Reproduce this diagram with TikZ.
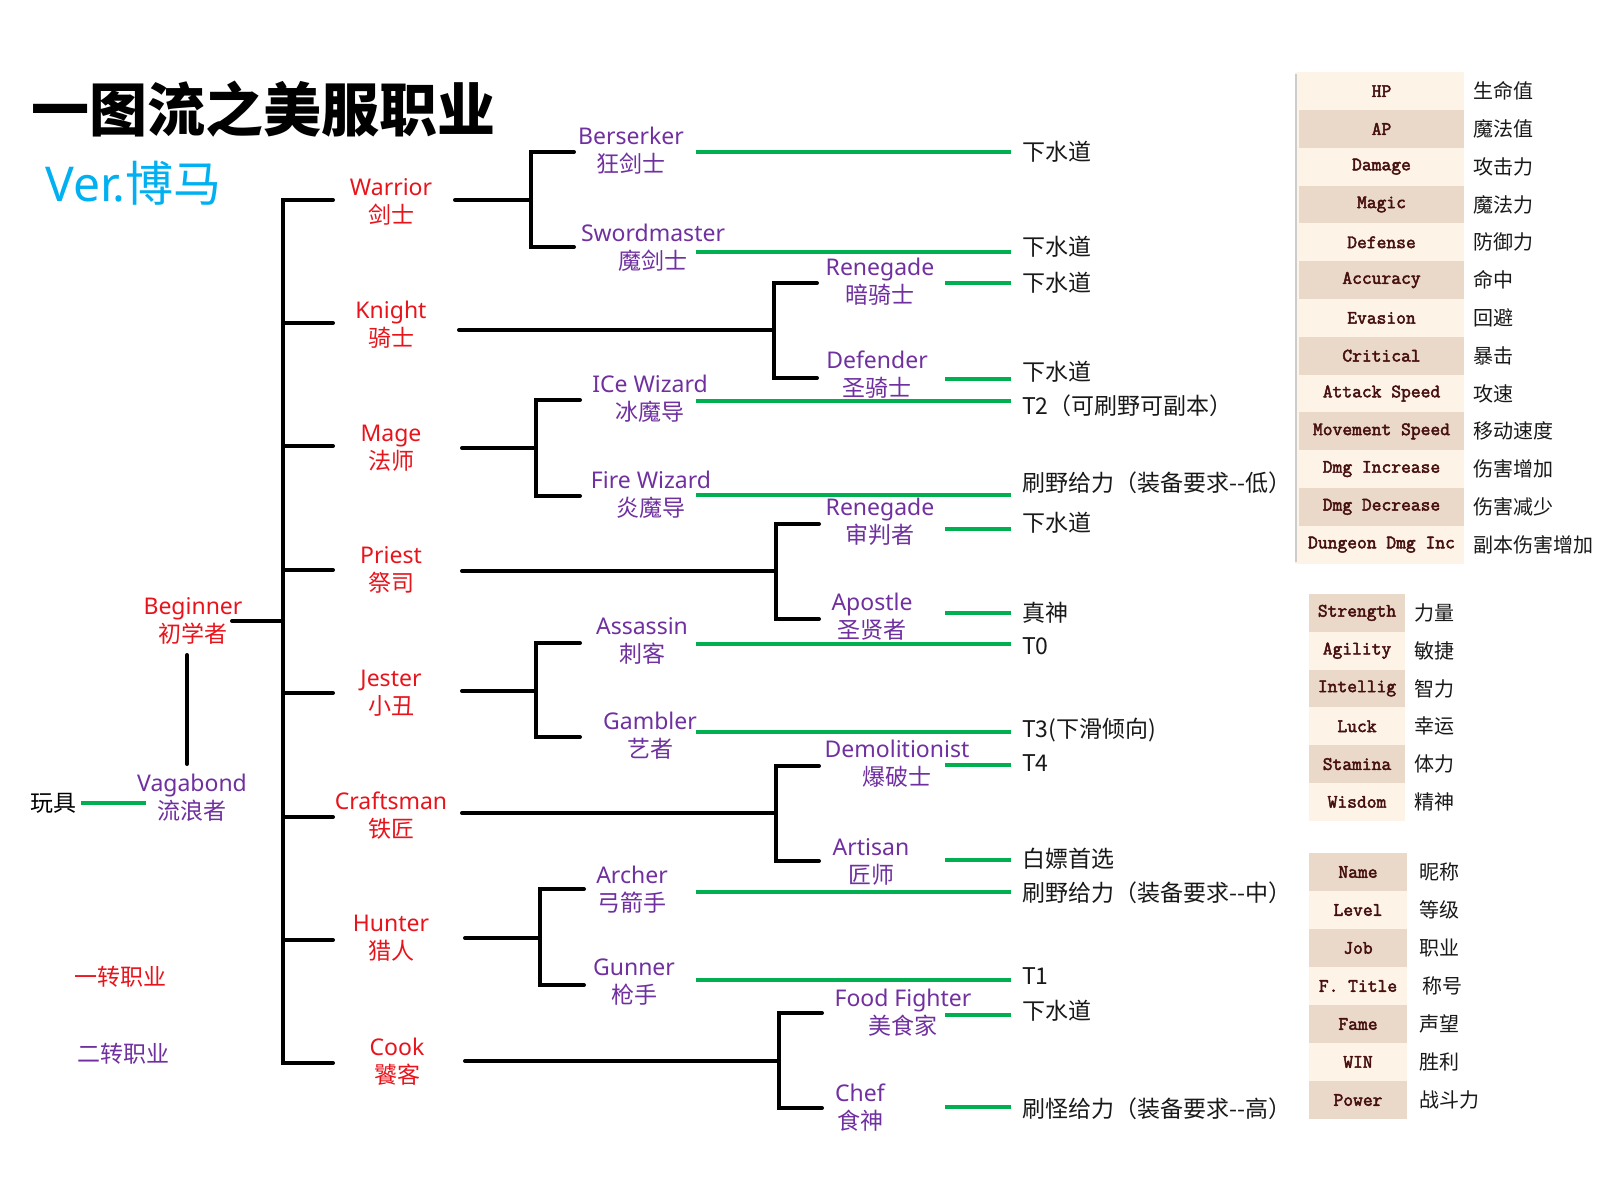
\documentclass[tikz,border=0pt]{standalone}
\usepackage{fontspec}
\setmainfont{Noto Sans}
\newfontfamily\cjk{Noto Sans CJK SC}
\newfontfamily\tblfont{Latin Modern Mono}[FakeBold=2.5]
\definecolor{jred}{RGB}{232,20,28}
\definecolor{jpur}{RGB}{112,48,160}
\definecolor{jgrn}{RGB}{0,176,80}
\definecolor{jcyan}{RGB}{0,176,240}
\definecolor{rowlight}{RGB}{253,243,230}
\definecolor{rowdark}{RGB}{234,217,200}
\definecolor{tbltext}{RGB}{70,16,16}
\begin{document}
\begin{tikzpicture}[x=1pt,y=-1pt,
  tree/.style={line width=4pt, black, line cap=round, line join=miter},
  grn/.style={line width=4.5pt, jgrn},
  lbl/.style={align=center, inner sep=0pt, font=\fontsize{23}{28}\selectfont},
  jobA/.style={lbl, text=jred},
  jobB/.style={lbl, text=jpur},
  res/.style={anchor=west, inner xsep=11pt, inner ysep=0pt, font=\cjk\fontsize{23}{28}\selectfont, text=black!90},
  cell/.style={font=\tblfont\fontsize{19}{22}\selectfont, text=tbltext, inner sep=0pt},
  meaning/.style={anchor=west, inner sep=0pt, font=\cjk\fontsize{20}{24}\selectfont, text=black!90},
]
\useasboundingbox[fill=white] (0,0) rectangle (1600,1200);

% ---------- title ----------
\node[anchor=west, inner sep=0pt, font=\cjk\bfseries\fontsize{58}{64}\selectfont] (title) at (31,109) {一图流之美服职业};
\node[anchor=west, inner sep=0pt, text=jcyan, font=\fontsize{48}{52}\selectfont] (ver) at (45,183) {Ver.{\cjk 博马}};

% ---------- legend ----------
\node[inner sep=0pt, text=jred, font=\cjk\fontsize{23}{28}\selectfont] (leg1) at (120,977) {一转职业};
\node[inner sep=0pt, text=jpur, font=\cjk\fontsize{23}{28}\selectfont] (leg2) at (123,1054) {二转职业};

% ---------- coordinates of the tree ----------
\coordinate (tk1) at (283,200);
\coordinate (tk2) at (283,323);
\coordinate (tk3) at (283,446);
\coordinate (tk4) at (283,570);
\coordinate (tk5) at (283,693);
\coordinate (tk6) at (283,817);
\coordinate (tk7) at (283,940);
\coordinate (tk8) at (283,1063);
\coordinate (tkB) at (283,621);
\coordinate (l1) at (333,200);
\coordinate (l2) at (333,323);
\coordinate (l3) at (333,446);
\coordinate (l4) at (333,570);
\coordinate (l5) at (333,693);
\coordinate (l6) at (333,817);
\coordinate (l7) at (333,940);
\coordinate (l8) at (333,1063);
\coordinate (begR) at (232,621);
\coordinate (begD) at (187,655);
\coordinate (vagU) at (187,764);
\coordinate (toyR) at (81,803);
\coordinate (vagL) at (146,803);

% first-job right ends and branch points
\coordinate (r1) at (455,200);  \coordinate (v1) at (531,200);
\coordinate (r2) at (459,330);  \coordinate (v2) at (774,330);
\coordinate (r3) at (462,448);  \coordinate (v3) at (536,448);
\coordinate (r4) at (462,571);  \coordinate (v4) at (776,571);
\coordinate (r5) at (462,691);  \coordinate (v5) at (536,691);
\coordinate (r6) at (462,813);  \coordinate (v6) at (776,813);
\coordinate (r7) at (465,938);  \coordinate (v7) at (540,938);
\coordinate (r8) at (465,1061); \coordinate (v8) at (779,1061);

% ---------- black tree ----------
\draw[tree] (l1) -- (tk1) -- (tk8) -- (l8);
\foreach \k in {2,...,7} { \draw[tree] (tk\k) -- (l\k); }
\draw[tree] (begR) -- (tkB);
\draw[tree] (begD) -- (vagU);
\draw[grn] (toyR) -- (vagL);

\foreach \k in {1,...,8} { \draw[tree] (r\k) -- (v\k); }
% brackets to the second jobs
\draw[tree] (574,152) -- (531,152) -- (531,247) -- (574,247);
\draw[tree] (817,283) -- (774,283) -- (774,378) -- (817,378);
\draw[tree] (580,400) -- (536,400) -- (536,496) -- (580,496);
\draw[tree] (819,524) -- (776,524) -- (776,619) -- (819,619);
\draw[tree] (580,643) -- (536,643) -- (536,737) -- (580,737);
\draw[tree] (819,766) -- (776,766) -- (776,861) -- (819,861);
\draw[tree] (584,889) -- (540,889) -- (540,985) -- (584,985);
\draw[tree] (822,1013) -- (779,1013) -- (779,1108) -- (822,1108);

% ---------- result texts ----------
\node[res] (o1)  at (1011,152) {下水道};
\node[res] (o2)  at (1011,247) {下水道};
\node[res] (o3)  at (1011,283) {下水道};
\node[res] (o4)  at (1011,372) {下水道};
\node[res] (o5)  at (1011,406) {T2（可刷野可副本）};
\node[res] (o6)  at (1011,483) {刷野给力（装备要求--低）};
\node[res] (o7)  at (1011,523) {下水道};
\node[res] (o8)  at (1011,613) {真神};
\node[res] (o9)  at (1011,646) {T0};
\node[res] (o10) at (1011,730) {T3(下滑倾向)};
\node[res] (o11) at (1011,763) {T4};
\node[res] (o12) at (1011,859) {白嫖首选};
\node[res] (o13) at (1011,893) {刷野给力（装备要求--中）};
\node[res] (o14) at (1011,976) {T1};
\node[res] (o15) at (1011,1011) {下水道};
\node[res] (o16) at (1011,1109) {刷怪给力（装备要求--高）};

% ---------- green connectors ----------
\coordinate (g1) at (696,152);
\coordinate (g2) at (696,252);
\coordinate (g3) at (945,283);
\coordinate (g4) at (945,379);
\coordinate (g5) at (696,401);
\coordinate (g6) at (696,495);
\coordinate (g7) at (945,529);
\coordinate (g8) at (945,613);
\coordinate (g9) at (696,644);
\coordinate (g10) at (696,732);
\coordinate (g11) at (945,765);
\coordinate (g12) at (945,860);
\coordinate (g13) at (696,892);
\coordinate (g14) at (696,980);
\coordinate (g15) at (945,1015);
\coordinate (g16) at (945,1107);
\foreach \k in {1,...,16} { \draw[grn] (g\k) -- (g\k -| o\k.west); }

% ---------- labels ----------
\node[jobA] (beginner) at (193,621) {Beginner\\{\cjk 初学者}};
\node[jobB] (vagabond) at (192,798) {Vagabond\\{\cjk 流浪者}};
\node[inner sep=0pt, font=\cjk\fontsize{23}{28}\selectfont] (toy) at (53,803) {玩具};

\node[jobA] (warrior)   at (391,202)  {Warrior\\{\cjk 剑士}};
\node[jobA] (knight)    at (391,325)  {Knight\\{\cjk 骑士}};
\node[jobA] (mage)      at (391,448)  {Mage\\{\cjk 法师}};
\node[jobA] (priest)    at (391,570)  {Priest\\{\cjk 祭司}};
\node[jobA] (jester)    at (391,693)  {Jester\\{\cjk 小丑}};
\node[jobA] (craftsman) at (391,816)  {Craftsman\\{\cjk 铁匠}};
\node[jobA] (hunter)    at (391,938)  {Hunter\\{\cjk 猎人}};
\node[jobA] (cook)      at (397,1062) {Cook\\{\cjk 饕客}};

\node[jobB] (berserker) at (631,151)  {Berserker\\{\cjk 狂剑士}};
\node[jobB] (swordm)    at (653,248)  {Swordmaster\\{\cjk 魔剑士}};
\node[jobB] (renegK)    at (880,282)  {Renegade\\{\cjk 暗骑士}};
\node[jobB] (defender)  at (877,375)  {Defender\\{\cjk 圣骑士}};
\node[jobB] (icew)      at (650,399)  {ICe Wizard\\{\cjk 冰魔导}};
\node[jobB] (firew)     at (651,495)  {Fire Wizard\\{\cjk 炎魔导}};
\node[jobB] (renegP)    at (880,522)  {Renegade\\{\cjk 审判者}};
\node[jobB] (apostle)   at (872,617)  {Apostle\\{\cjk 圣贤者}};
\node[jobB] (assassin)  at (642,641)  {Assassin\\{\cjk 刺客}};
\node[jobB] (gambler)   at (650,736)  {Gambler\\{\cjk 艺者}};
\node[jobB] (demol)     at (897,764)  {Demolitionist\\{\cjk 爆破士}};
\node[jobB] (artisan)   at (871,862)  {Artisan\\{\cjk 匠师}};
\node[jobB] (archer)    at (632,890)  {Archer\\{\cjk 弓箭手}};
\node[jobB] (gunner)    at (634,982)  {Gunner\\{\cjk 枪手}};
\node[jobB] (foodf)     at (903,1013) {Food Fighter\\{\cjk 美食家}};
\node[jobB] (chef)      at (860,1108) {Chef\\{\cjk 食神}};

% ---------- table 1: stats ----------
\fill[rowlight] (1295,72) rectangle (1464,564);
\foreach \i in {1,3,...,11} { \fill[rowdark] (1299,{72.2+37.8*\i}) rectangle (1464,{110+37.8*\i}); }
\draw[gray!40, line width=2.5pt] (1296,74) -- (1296,562);
\foreach \en/\zh [count=\i from 0] in {HP/生命值, AP/魔法值, Damage/攻击力, Magic/魔法力, Defense/防御力, Accuracy/命中, Evasion/回避, Critical/暴击, Attack Speed/攻速, Movement Speed/移动速度, Dmg Increase/伤害增加, Dmg Decrease/伤害减少, Dungeon Dmg Inc/副本伤害增加} {
  \node[cell] (sa\i) at (1381.5,{91.1+37.8*\i}) {\en};
  \node[meaning] (sb\i) at (1473,{91.1+37.8*\i}) {\zh};
}

% ---------- table 2: attributes ----------
\fill[rowlight] (1309,594) rectangle (1405,821);
\foreach \i in {0,2,4} { \fill[rowdark] (1309,{594+37.8*\i}) rectangle (1405,{631.8+37.8*\i}); }
\foreach \en/\zh [count=\i from 0] in {Strength/力量, Agility/敏捷, Intellig/智力, Luck/幸运, Stamina/体力, Wisdom/精神} {
  \node[cell] (aa\i) at (1357,{612.9+37.8*\i}) {\en};
  \node[meaning] (ab\i) at (1414,{612.9+37.8*\i}) {\zh};
}

% ---------- table 3: profile ----------
\fill[rowlight] (1309,853) rectangle (1407,1119);
\foreach \i in {0,2,4,6} { \fill[rowdark] (1309,{853+38*\i}) rectangle (1407,{891+38*\i}); }
\foreach \en/\zh/\dx [count=\i from 0] in {Name/昵称/0, Level/等级/0, Job/职业/0, F. Title/称号/3, Fame/声望/0, WIN/胜利/0, Power/战斗力/0} {
  \node[cell] (pa\i) at (1358,{872+38*\i}) {\en};
  \node[meaning] (pb\i) at ({1419+\dx},{872+38*\i}) {\zh};
}
\end{tikzpicture}
\end{document}
